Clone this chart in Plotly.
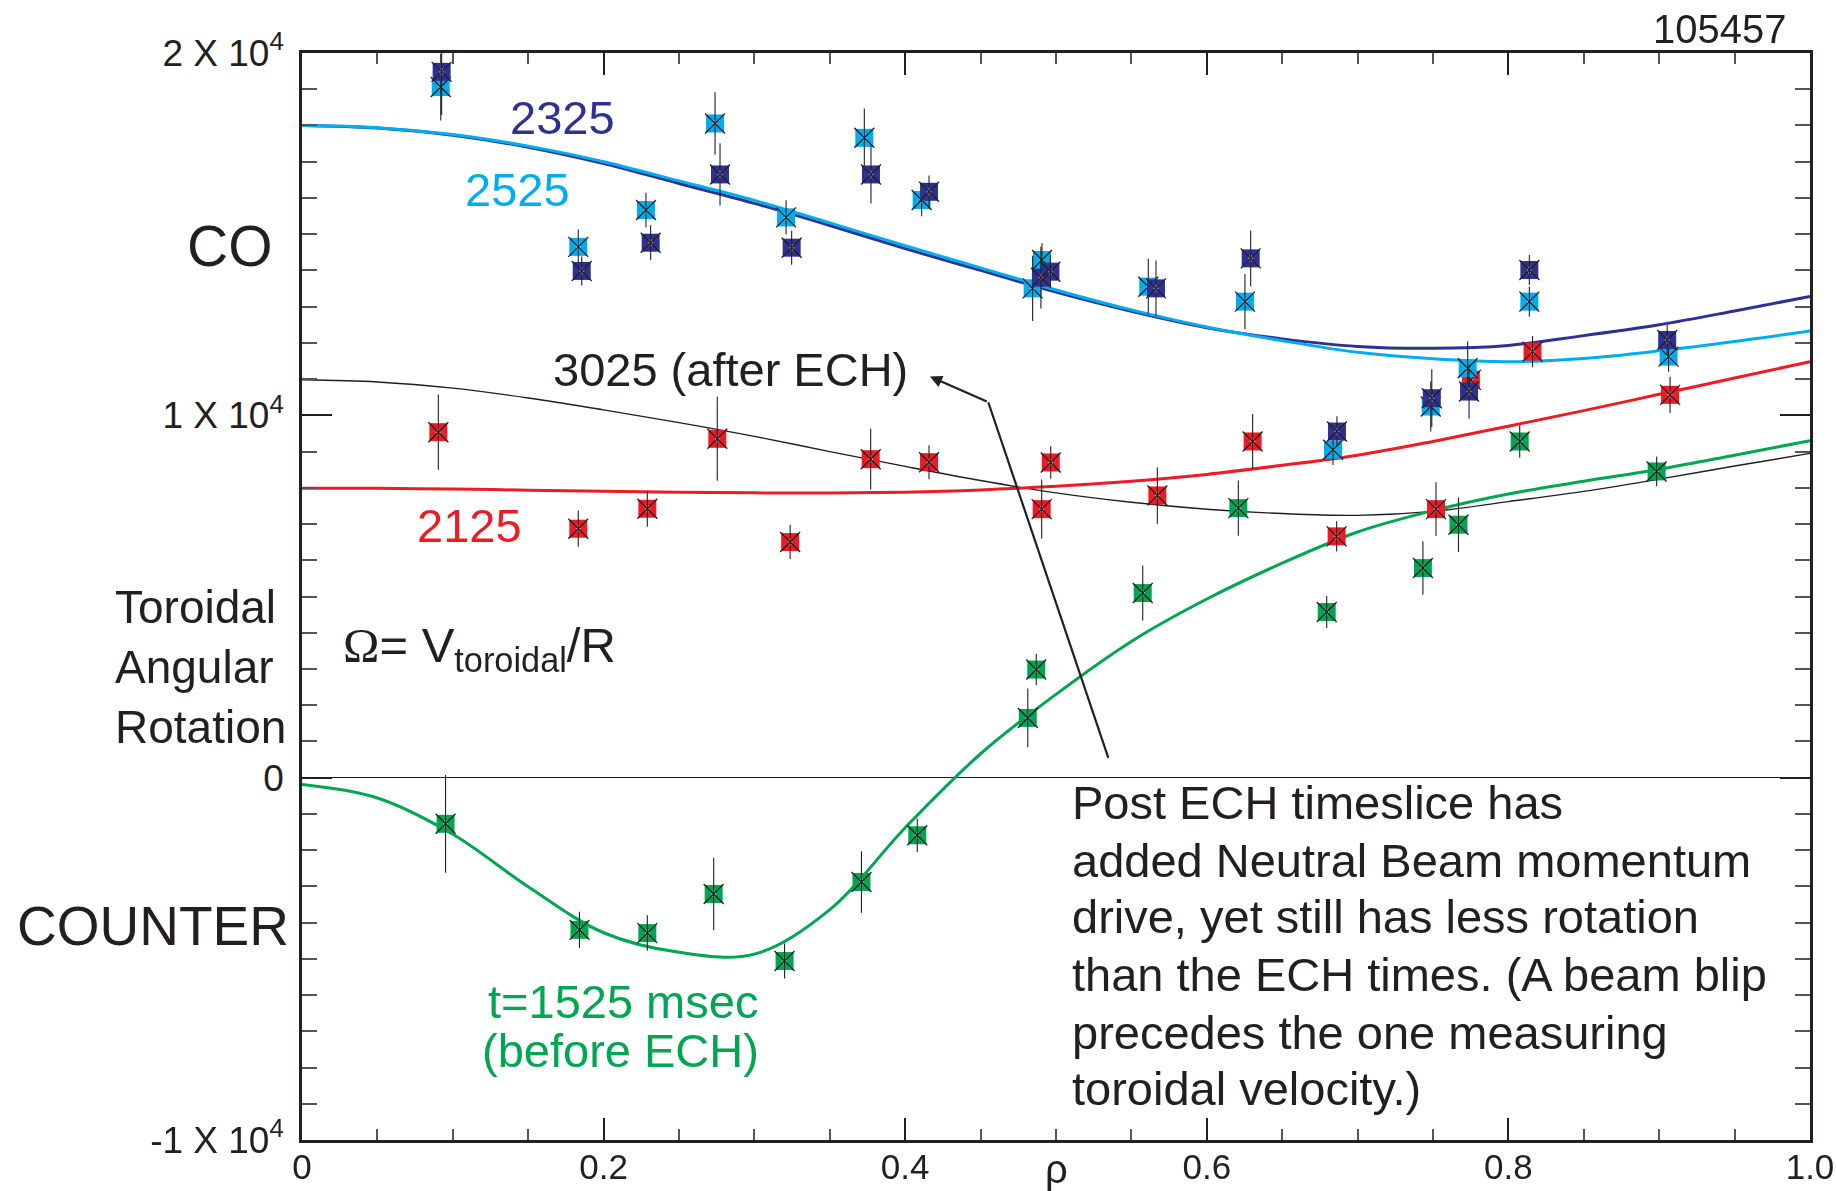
import plotly.graph_objects as go

# ---------------- data ----------------
# measured points: rho, Omega (rad/s), error half-length
rho_2325 = [0.0926, 0.1855, 0.2312, 0.2772, 0.3247, 0.3773, 0.4158, 0.4900, 0.4963, 0.5663, 0.6291, 0.6863, 0.7492, 0.7739, 0.8139, 0.9053]
om_2325 = [19480, 13985, 14764, 16648, 14627, 16648, 16170, 13800, 13965, 13505, 14332, 9553, 10472, 10656, 14011, 12081]
err_2325 = [1190, 400, 480, 860, 470, 800, 450, 850, 450, 770, 770, 420, 800, 750, 415, 415]

rho_2525 = [0.0920, 0.1832, 0.2281, 0.2739, 0.3210, 0.3729, 0.4109, 0.4845, 0.4907, 0.5612, 0.6253, 0.6837, 0.7485, 0.7730, 0.8139, 0.9062]
om_2525 = [19060, 14650, 15665, 18055, 15463, 17659, 15942, 13505, 14287, 13551, 13138, 9049, 10243, 11299, 13138, 11621]
err_2525 = [920, 480, 480, 860, 470, 810, 450, 900, 460, 770, 760, 420, 690, 740, 415, 415]

rho_2125 = [0.0904, 0.1832, 0.2290, 0.2754, 0.3237, 0.3771, 0.4158, 0.4905, 0.4965, 0.5672, 0.6304, 0.6861, 0.7520, 0.7751, 0.8160, 0.9072]
om_2125 = [9535, 6871, 7422, 9352, 6502, 8790, 8707, 7411, 8699, 7789, 9278, 6659, 7411, 10979, 11759, 10565]
err_2125 = [1040, 500, 500, 1160, 470, 840, 470, 815, 450, 780, 760, 420, 740, 500, 430, 500]

rho_1525 = [0.0952, 0.1840, 0.2290, 0.2730, 0.3200, 0.3710, 0.4080, 0.4813, 0.4869, 0.5575, 0.6209, 0.6795, 0.7433, 0.7669, 0.8075, 0.8983]
om_1525 = [-1274, -4200, -4290, -3210, -5060, -2880, -1590, 1649, 2983, 5095, 7439, 4571, 5785, 6981, 9278, 8451]
err_1525 = [1350, 500, 490, 1000, 480, 850, 460, 810, 430, 760, 760, 440, 740, 750, 450, 410]

# fitted profiles
rho_fit = [0.0, 0.05, 0.10, 0.15, 0.20, 0.25, 0.30, 0.35, 0.40, 0.45, 0.50,
           0.55, 0.60, 0.65, 0.70, 0.75, 0.80, 0.85, 0.90, 0.95, 1.0]
fit_2325 = [18000, 17930, 17730, 17400, 16950, 16400, 15850, 15240, 14600, 14000, 13400,
            12870, 12420, 12110, 11900, 11850, 11930, 12200, 12500, 12880, 13280]
fit_2525 = [18000, 17940, 17750, 17430, 17000, 16470, 15930, 15310, 14680, 14070, 13460,
            12910, 12440, 12060, 11740, 11560, 11480, 11570, 11780, 12040, 12330]
fit_3025 = [10980, 10920, 10750, 10480, 10150, 9800, 9420, 9000, 8590, 8200, 7860,
            7600, 7410, 7290, 7240, 7350, 7620, 7900, 8240, 8600, 8950]
fit_2125 = [7990, 7985, 7965, 7935, 7905, 7880, 7860, 7855, 7880, 7940, 8040,
            8180, 8370, 8620, 8900, 9280, 9700, 10130, 10580, 11030, 11480]
fit_1525 = [-190, -560, -1560, -3010, -4280, -4820, -4870, -3640, -1380, 660, 2300,
            3760, 4930, 5920, 6780, 7370, 7830, 8180, 8510, 8900, 9300]

# axis ticks
x_tickvals = [0, 0.2, 0.4, 0.6, 0.8, 1.0]
x_ticktext = ["0", "0.2", "0.4", "0.6", "0.8", "1.0"]
y_tickvals = [-10000, 0, 10000, 20000]
y_ticktext = ["-1 X 10<sup>4</sup>", "0", "1 X 10<sup>4</sup>", "2 X 10<sup>4</sup>"]

# annotation arrow (rho, Omega)
arrow_tail = [0.5347, 546]
arrow_bend = [0.4551, 10361]
arrow_head = [0.4164, 11070]

para_lines = ["Post ECH timeslice has",
              "added Neutral Beam momentum",
              "drive, yet still has less rotation",
              "than the ECH times. (A beam blip",
              "precedes the one measuring",
              "toroidal velocity.)"]
para_y = [-675, -2275, -3843, -5445, -7044, -8588]

# ---------------- styling ----------------
DARK = "#2e3192"
CYAN = "#00aeef"
RED = "#ed1c24"
GREEN = "#00a651"
INK = "#231f20"
FONT = "Liberation Sans, Arial, Helvetica, sans-serif"

fig = go.Figure()

# fitted curves
fig.add_trace(go.Scatter(x=rho_fit, y=fit_3025, mode="lines", line=dict(color=INK, width=1.4, shape="spline"), hoverinfo="skip"))
fig.add_trace(go.Scatter(x=rho_fit, y=fit_2125, mode="lines", line=dict(color=RED, width=3, shape="spline"), hoverinfo="skip"))
fig.add_trace(go.Scatter(x=rho_fit, y=fit_1525, mode="lines", line=dict(color=GREEN, width=3, shape="spline"), hoverinfo="skip"))
fig.add_trace(go.Scatter(x=rho_fit, y=fit_2325, mode="lines", line=dict(color=DARK, width=3, shape="spline"), hoverinfo="skip"))
fig.add_trace(go.Scatter(x=rho_fit, y=fit_2525, mode="lines", line=dict(color=CYAN, width=3, shape="spline"), hoverinfo="skip"))

# data points: coloured square, black X, black vertical error bar
for rr, oo, ee, col in [(rho_2125, om_2125, err_2125, RED),
                        (rho_1525, om_1525, err_1525, GREEN),
                        (rho_2525, om_2525, err_2525, CYAN),
                        (rho_2325, om_2325, err_2325, DARK)]:
    fig.add_trace(go.Scatter(x=rr, y=oo, mode="markers",
                             marker=dict(symbol="square", size=18, color=col, line=dict(width=0))))
    fig.add_trace(go.Scatter(x=rr, y=oo, mode="markers",
                             marker=dict(symbol="diamond-tall", size=7, color="white", line=dict(width=0)),
                             opacity=0.55))
    fig.add_trace(go.Scatter(x=rr, y=oo, mode="markers",
                             marker=dict(symbol="x-thin", size=20, color=INK, line=dict(width=1.3, color=INK)),
                             error_y=dict(type="data", array=ee, visible=True, color=INK, thickness=1.1, width=0)))

annotations = []

def add_text(text, x, y, size, color=INK, xref="x", yref="y", xanchor="center", yanchor="middle", align="center"):
    annotations.append(dict(text=text, x=x, y=y, xref=xref, yref=yref, xanchor=xanchor, yanchor=yanchor,
                            align=align, showarrow=False, font=dict(family=FONT, size=size, color=color)))

add_text("2325", 0.1730, 18224, 47, DARK)
add_text("2525", 0.1429, 16231, 47, CYAN)
add_text("3025 (after ECH)", 0.1649, 11254, 47, INK, xanchor="left")
add_text("2125", 0.1111, 6971, 47, RED)
add_text("t=1525 msec", 0.2128, -6190, 47, GREEN)
add_text("(before ECH)", 0.2112, -7541, 47, GREEN)
for t, yy in zip(para_lines, para_y):
    add_text(t, 0.5093, yy, 47, INK, xanchor="left", align="left")

add_text("105457", 0.9854, 1.0218, 40, INK, xref="paper", yref="paper", xanchor="right")
add_text("CO", -0.0179, 0.8224, 57, INK, xref="paper", yref="paper", xanchor="right")
add_text("COUNTER", -0.0070, 0.1969, 55, INK, xref="paper", yref="paper", xanchor="right")
add_text("Toroidal<br>Angular<br>Rotation", -0.1253, 0.4351, 46, INK, xref="paper", yref="paper",
         xanchor="left", align="left")
add_text('<span style="font-family:Liberation Serif">Ω</span>= V<sub>toroidal</sub>/R', 0.0257, 0.4525, 49, INK,
         xref="paper", yref="paper", xanchor="left", align="left")
add_text("ρ", 0.5, -0.0267, 40, INK, xref="x", yref="paper")

# arrow: head segment as annotation arrow
annotations.append(dict(x=arrow_head[0], y=arrow_head[1], ax=arrow_bend[0], ay=arrow_bend[1],
                        xref="x", yref="y", axref="x", ayref="y", text="", showarrow=True,
                        arrowhead=2, arrowsize=1.1, arrowwidth=2.2, arrowcolor=INK, standoff=0))

shapes = [dict(type="line", xref="x", yref="y", x0=arrow_tail[0], y0=arrow_tail[1],
               x1=arrow_bend[0], y1=arrow_bend[1], line=dict(color=INK, width=2.2))]

fig.update_layout(
    width=1836, height=1191,
    margin=dict(l=302, r=26, t=53, b=51, autoexpand=False),
    paper_bgcolor="white", plot_bgcolor="white",
    showlegend=False,
    font=dict(family=FONT, color=INK),
    annotations=annotations,
    shapes=shapes,
    xaxis=dict(range=[0, 1], tickmode="array", tickvals=x_tickvals, ticktext=x_ticktext,
               ticks="inside", ticklen=22, tickwidth=2, tickcolor=INK, automargin=False,
               minor=dict(dtick=0.05, tick0=0, ticks="inside", ticklen=11, tickwidth=1.6, tickcolor="#555555", showgrid=False),
               showline=True, linewidth=2.5, linecolor=INK, mirror="allticks",
               showgrid=False, zeroline=False, ticklabelstandoff=-6,
               tickfont=dict(family=FONT, size=35, color=INK)),
    yaxis=dict(range=[-10000, 20000], tickmode="array", tickvals=y_tickvals, ticktext=y_ticktext,
               ticks="inside", ticklen=30, tickwidth=2, tickcolor=INK, automargin=False,
               minor=dict(dtick=1000, tick0=0, ticks="inside", ticklen=15, tickwidth=1.6, tickcolor="#555555", showgrid=False),
               showline=True, linewidth=2.5, linecolor=INK, mirror="allticks",
               showgrid=False, zeroline=True, zerolinecolor=INK, zerolinewidth=1.2,
               ticklabelstandoff=8,
               tickfont=dict(family=FONT, size=37, color=INK)),
)

fig.write_html("out.html")
